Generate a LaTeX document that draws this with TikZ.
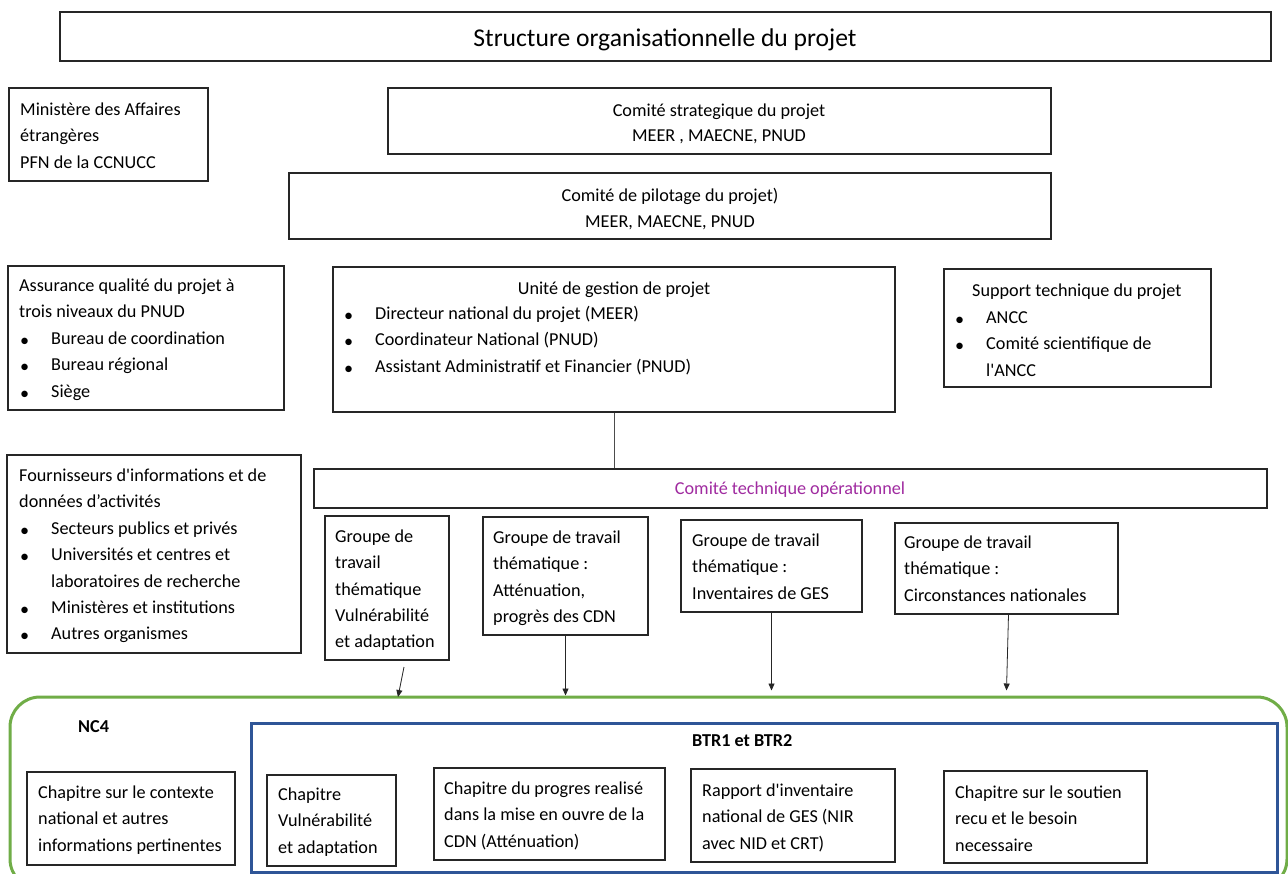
\documentclass[tikz,border=0pt]{standalone}
\usepackage{fontspec}
\setmainfont{Carlito}[Ligatures=TeXOff]
\usetikzlibrary{arrows.meta,calc}
\definecolor{grn}{RGB}{112,173,71}
\definecolor{blu}{RGB}{47,85,151}
\definecolor{purp}{RGB}{160,43,160}
\newcommand\body{\fontsize{18.2}{26.4}\selectfont}
\newcommand\R{\rule{0pt}{18pt}}
\newcommand\bx[6][]{\node[box,#1,minimum width={(#5-#3)*1pt},minimum height={(#6-#4)*1pt}] (#2) at ({(#3+#5)/2},{(#4+#6)/2}) {};}
\tikzset{
  box/.style={draw=black!85, line width=1.2pt, rectangle, inner sep=0pt},
  txt/.style={anchor=north west, align=left, inner sep=0pt, font=\body},
  ctxt/.style={anchor=north, align=center, inner sep=0pt, font=\body},
  arr/.style={draw=black!85, line width=0.8pt, -{Triangle[length=7pt,width=6pt]}},
  lnk/.style={draw=black!70, line width=0.8pt}
}
\begin{document}
\begin{tikzpicture}[x=1pt,y=-1pt]
\useasboundingbox[fill=white] (0,0) rectangle (1288,873);
% outer groups
\node[draw=grn, line width=3pt, rounded corners=30pt, minimum width=1277pt, minimum height=192pt, inner sep=0pt] (nc4box) at (648.5,793) {};
\bx[draw=blu, line width=3pt]{btrbox}{251}{723}{1277}{872}
% boxes
\bx{title}{60}{12}{1271}{61}
\bx{mae}{9}{88}{208}{181}
\bx{strat}{388}{88}{1051}{154}
\bx{pilot}{289}{173}{1051}{239}
\bx{assur}{8}{266}{284}{410}
\bx{ugp}{333}{267}{895}{412}
\bx{supp}{944}{269}{1211}{387}
\bx{four}{7}{455}{301}{653}
\bx{cto}{314}{469}{1267}{508}
\bx{g1}{325}{516}{449}{660}
\bx{g2}{483}{517}{648}{635}
\bx{g3}{681}{520}{862}{612}
\bx{g4}{895}{523}{1118}{614}
\bx{c1}{27}{772}{235}{865}
\bx{c2}{267}{775}{396}{866}
\bx{c3}{434}{768}{665}{860}
\bx{c4}{691}{769}{895}{862}
\bx{c5}{944}{771}{1147}{863}
% texts (node y = first baseline - 18)
\node[anchor=base, inner sep=0pt, font=\fontsize{25.6}{30}\selectfont] (title-t) at (665,46) {Structure organisationnelle du projet};
\node[txt] (mae-t) at (20,97) {\R Ministère des Affaires\\étrangères\\PFN de la CCNUCC};
\node[ctxt, font=\fontsize{18.2}{25.5}\selectfont] (strat-t) at (719,98) {\R Comité strategique du projet\\MEER , MAECNE, PNUD};
\node[ctxt, font=\fontsize{18.2}{26}\selectfont] (pilot-t) at (670,183) {\R Comité de pilotage du projet)\\MEER, MAECNE, PNUD};
\node[txt] (assur-t) at (19,273) {\R Assurance qualité du projet à\\trois niveaux du PNUD};
\node[txt] (assur-b) at (20,328) {\R•\\•\\•};
\node[txt] (assur-l) at (51,326) {\R Bureau de coordination\\Bureau régional\\Siège};
\node[ctxt] (ugp-t) at (614,276) {\R Unité de gestion de projet};
\node[txt] (ugp-b) at (344,303) {\R•\\•\\•};
\node[txt] (ugp-l) at (375,301) {\R Directeur national du projet (MEER)\\Coordinateur National (PNUD)\\Assistant Administratif et Financier (PNUD)};
\node[txt] (supp-t) at (972,278) {\R Support technique du projet};
\node[txt] (supp-b) at (955,307) {\R•\\•};
\node[txt] (supp-l) at (986,305) {\R ANCC\\Comité scientifique de\\l'ANCC};
\node[txt] (four-t) at (19,463) {\R Fournisseurs d'informations et de\\données d’activités};
\node[txt] (four-b) at (20,518) {\R•\\•\\\mbox{}\\•\\•};
\node[txt] (four-l) at (51,516) {\R Secteurs publics et privés\\Universités et centres et\\laboratoires de recherche\\Ministères et institutions\\Autres organismes};
\node[anchor=base, inner sep=0pt, font=\body, text=purp] (cto-t) at (790,494) {Comité technique opérationnel};
\node[txt] (g1-t) at (335,524) {\R Groupe de\\travail\\thématique\\Vulnérabilité\\et adaptation};
\node[txt] (g2-t) at (493,525) {\R Groupe de travail\\thématique :\\Atténuation,\\progrès des CDN};
\node[txt] (g3-t) at (692,528) {\R Groupe de travail\\thématique :\\Inventaires de GES};
\node[txt] (g4-t) at (904,530) {\R Groupe de travail\\thématique :\\Circonstances nationales};
\node[txt, font=\body\bfseries] (nc4-t) at (78,714) {\R NC4};
\node[txt, font=\body\bfseries] (btr-t) at (692,728) {\R BTR1 et BTR2};
\node[txt] (c1-t) at (38,780) {\R Chapitre sur le contexte\\national et autres\\informations pertinentes};
\node[txt] (c2-t) at (278,782) {\R Chapitre\\Vulnérabilité\\et adaptation};
\node[txt] (c3-t) at (444,776) {\R Chapitre du progres realisé\\dans la mise en ouvre de la\\CDN (Atténuation)};
\node[txt] (c4-t) at (702,778) {\R Rapport d'inventaire\\national de GES (NIR\\avec NID et CRT)};
\node[txt] (c5-t) at (955,780) {\R Chapitre sur le soutien\\recu et le besoin\\necessaire};
% connectors
\draw[lnk] (ugp.south) -- (ugp.south |- cto.north);
\coordinate (a1s) at (404,667);
\coordinate (a1e) at (398,697);
\draw[arr] (a1s) -- (a1e);
\draw[arr] (g2.south) -- (g2.south |- nc4box.north);
\draw[arr] (g3.south) -- ($(g3.south |- nc4box.north)+(0,-5)$);
\draw[arr] ($(g4.south)+(2,0)$) -- ($(g4.south |- nc4box.north)+(0,-5)$);
\end{tikzpicture}
\end{document}
